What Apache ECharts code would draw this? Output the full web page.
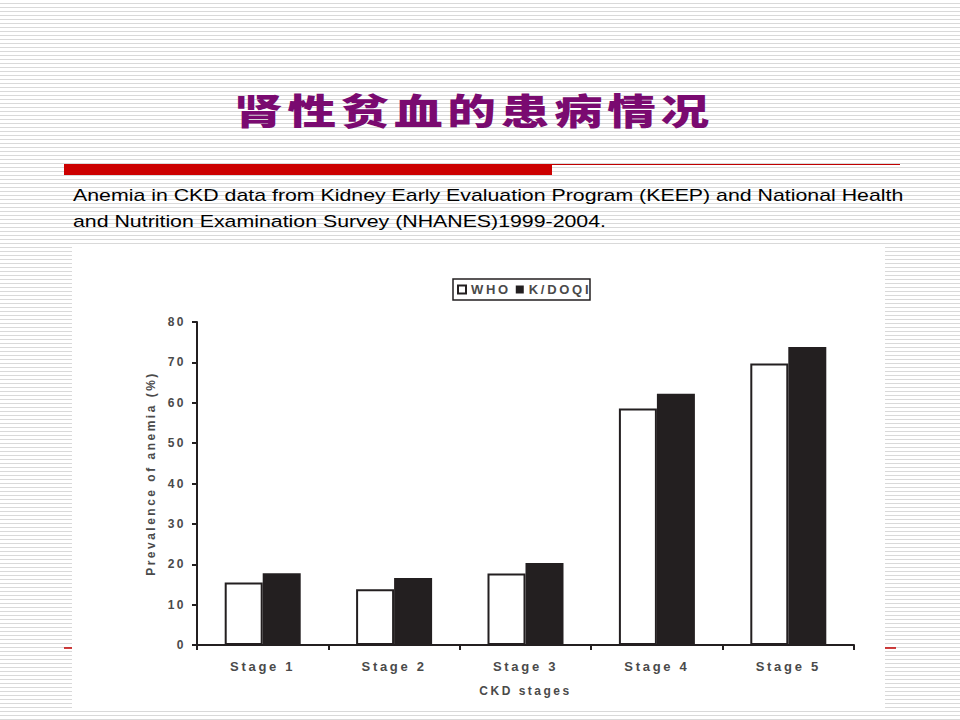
<!DOCTYPE html>
<html>
<head>
<meta charset="utf-8">
<script src="https://cdn.jsdelivr.net/npm/echarts@6/dist/echarts.min.js"></script>
<style>
    html, body { margin: 0; padding: 0; }
    #chart {
        width: 960px;
        height: 720px;
        background: repeating-linear-gradient(to bottom, #ffffff 0px, #ffffff 3px, #d9d9d9 3px, #d9d9d9 4px);
    }
    /* letter spacing of the scanned figure, applied to svg text by font size */
    #chart text[style*="36px"] { letter-spacing: 3.5px; }
    #chart text[style*="13px"] { letter-spacing: 2.7px; }
    #chart text[style*="12px"] { letter-spacing: 2.5px; }
</style>
</head>
<body>
<div id="chart"></div>
<script>
    // 数据
    var stages = ["Stage 1", "Stage 2", "Stage 3", "Stage 4", "Stage 5"];
    var whoValues = [15.5, 13.8, 17.7, 58.6, 69.7];
    var kdoqiValues = [17.8, 16.6, 20.3, 62.2, 73.8];
    var seriesNames = ["WHO", "K/DOQI"];

    var labelFont = "'Liberation Sans', Arial, sans-serif";
    var ink = "#231f20";
    var grey = "#4a4a4a";

    var myChart = echarts.init(document.getElementById('chart'), null, { renderer: 'svg' });
    var option = {
        animation: false,
        graphic: [
            // 幻灯片底线（被白色图框挡住）
            { type: "line", z: -5, shape: { x1: 64, y1: 648, x2: 896, y2: 648 }, style: { stroke: "#c00000", lineWidth: 1.5 } },
            // 白色图框
            { type: "rect", z: -4, shape: { x: 72, y: 247, width: 813, height: 461 }, style: { fill: "#ffffff" } },
            // 红色横条
            { type: "rect", z: 1, shape: { x: 64, y: 164, width: 488, height: 11 }, style: { fill: "#cc0000" } },
            { type: "line", z: 1, shape: { x1: 552, y1: 164.5, x2: 900, y2: 164.5 }, style: { stroke: "#c00000", lineWidth: 1.2 } },
            // 标题（原图横向拉伸）
            {
                type: "text", z: 10, x: 474, y: 109, scaleX: 1.35,
                style: {
                    text: "肾性贫血的患病情况",
                    fill: "#7a0a70",
                    font: "900 36px 'Noto Sans CJK SC', sans-serif",
                    textAlign: "center",
                    textVerticalAlign: "middle"
                }
            },
            {
                type: "text", z: 10, x: 73, y: 182, scaleX: 1.255,
                style: {
                    text: "Anemia in CKD data from Kidney Early Evaluation Program (KEEP) and National Health\nand Nutrition Examination Survey (NHANES)1999-2004.",
                    fill: "#000000",
                    font: "17px 'Liberation Sans', Arial, sans-serif",
                    lineHeight: 26,
                    textAlign: "left",
                    textVerticalAlign: "top"
                }
            }
        ],
        legend: {
            data: seriesNames,
            left: 453,
            top: 279,
            orient: "horizontal",
            icon: "rect",
            itemWidth: 8,
            itemHeight: 8,
            itemGap: 13,
            padding: [4, 15, 4, 4],
            borderColor: ink,
            borderWidth: 1.5,
            selectedMode: false,
            textStyle: {
                color: grey,
                fontSize: 13,
                fontWeight: "bold",
                fontFamily: labelFont
            }
        },
        grid: {
            left: 197,
            right: 106,
            top: 322,
            bottom: 75
        },
        xAxis: {
            type: "category",
            data: stages,
            name: "CKD stages",
            nameLocation: "middle",
            nameGap: 40,
            nameTextStyle: { color: grey, fontSize: 12, fontWeight: "bold", fontFamily: labelFont },
            axisLine: { lineStyle: { color: ink, width: 2 } },
            axisTick: { show: true, length: 5, lineStyle: { color: ink, width: 2 } },
            axisLabel: { color: grey, fontSize: 13, fontWeight: "bold", fontFamily: labelFont, margin: 15 },
            splitLine: { show: false }
        },
        yAxis: {
            type: "value",
            min: 0,
            max: 80,
            interval: 10,
            name: "Prevalence of anemia (%)",
            nameLocation: "middle",
            nameGap: 40,
            nameTextStyle: { color: grey, fontSize: 12, fontWeight: "bold", fontFamily: labelFont, padding: [0, 0, 0, 20] },
            axisLine: { show: true, lineStyle: { color: ink, width: 2 } },
            axisTick: { show: true, length: 5, lineStyle: { color: ink, width: 2 } },
            axisLabel: { color: grey, fontSize: 12, fontWeight: "bold", fontFamily: labelFont, margin: 11 },
            splitLine: { show: false }
        },
        series: [
            {
                name: seriesNames[0],
                type: "bar",
                data: whoValues,
                barWidth: 38,
                barGap: "0%",
                itemStyle: { color: "#ffffff", borderColor: ink, borderWidth: 2 }
            },
            {
                name: seriesNames[1],
                type: "bar",
                data: kdoqiValues,
                barWidth: 38,
                barGap: "0%",
                itemStyle: { color: ink, borderColor: ink, borderWidth: 0 }
            }
        ]
    };
    myChart.setOption(option);
</script>
</body>
</html>
